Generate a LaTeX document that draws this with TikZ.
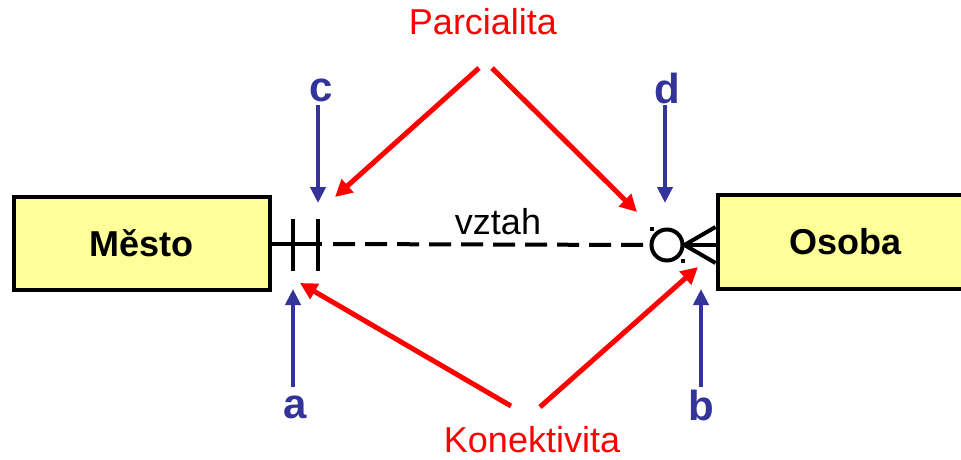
\documentclass[tikz,border=0pt]{standalone}
\usepackage{fontspec}
\setmainfont{Liberation Sans}
\usetikzlibrary{arrows.meta,positioning}
\definecolor{entyellow}{HTML}{FFFF99}
\definecolor{markblue}{HTML}{333399}
\begin{document}
\begin{tikzpicture}[x=1pt,y=-1pt,
  entity/.style={draw, line width=4pt, fill=entyellow, inner sep=0pt,
    font=\fontsize{36}{36}\selectfont\bfseries},
  bluearrow/.style={markblue, line width=4pt, -{Triangle[length=16pt,width=15pt]}},
  redarrow/.style={red, line width=5pt, -{Triangle[length=17pt,width=17pt]}},
  letter/.style={markblue, inner sep=0pt, font=\fontsize{42}{42}\selectfont\bfseries},
  remark/.style={red, inner sep=0pt, font=\fontsize{36}{36}\selectfont}]

\useasboundingbox (0,0) rectangle (961,459);
\clip (0,0) rectangle (961,459);

% entity boxes
\node [entity, minimum width=255.5pt, minimum height=93pt] (mesto) at (141.75,243) {Město};
\node [entity, minimum width=256pt, minimum height=94pt] (osoba) at (845.5,242) {Osoba};

% relationship line
\coordinate (tickA) at (293,219);
\coordinate (tickB) at (318,219);
\coordinate (solidend) at (322,244);
\coordinate (dashstart) at (333,244);
\node [draw, circle, line width=4pt, minimum size=31pt, inner sep=0pt] (circ) at (667,245) {};
\draw [line width=4pt] (mesto.east |- solidend) -- (solidend);
\draw [line width=4pt] (tickA) -- ++(0,52);
\draw [line width=4pt] (tickB) -- ++(0,52);
\draw [line width=4pt, dash pattern=on 22pt off 10pt] (dashstart) -- (circ.west);
\foreach \y in {227,245,263}
{
\draw [line width=4pt] (circ.east) -- (osoba.west |- 0,\y);
}
\fill (650,227) rectangle (654,231);
\fill (681,259) rectangle (685,263);
\node [inner sep=0pt, font=\fontsize{36}{36}\selectfont] (vztah) at (498,222) {vztah};

% letters and their arrows
\node [letter] (c) at (321,90) {c};
\node [letter] (d) at (667,88) {d};
\node [letter] (a) at (295,407) {a};
\node [letter] (b) at (701,405) {b};
\coordinate (cfrom) at (318,105);
\coordinate (cto) at (318,203);
\coordinate (dfrom) at (665,105);
\coordinate (dto) at (665,203);
\coordinate (afrom) at (293,387);
\coordinate (ato) at (293,289);
\coordinate (bfrom) at (701,387);
\coordinate (bto) at (701,289);
\draw [bluearrow] (cfrom) -- (cto);
\draw [bluearrow] (dfrom) -- (dto);
\draw [bluearrow] (afrom) -- (ato);
\draw [bluearrow] (bfrom) -- (bto);

% remarks and their arrows
\node [remark] (parc) at (483,22) {Parcialita};
\node [remark] (konekt) at (532,440) {Konektivita};
\coordinate (parcL) at (479,68);
\coordinate (parcR) at (492,68);
\coordinate (konektL) at (511,406);
\coordinate (konektR) at (540,407);
\coordinate (optC) at (335,197);
\coordinate (optD) at (637,212);
\coordinate (conA) at (300,283);
\coordinate (conB) at (698,267);
\draw [redarrow] (parcL) -- (optC);
\draw [redarrow] (parcR) -- (optD);
\draw [redarrow] (konektL) -- (conA);
\draw [redarrow] (konektR) -- (conB);

\end{tikzpicture}
\end{document}
